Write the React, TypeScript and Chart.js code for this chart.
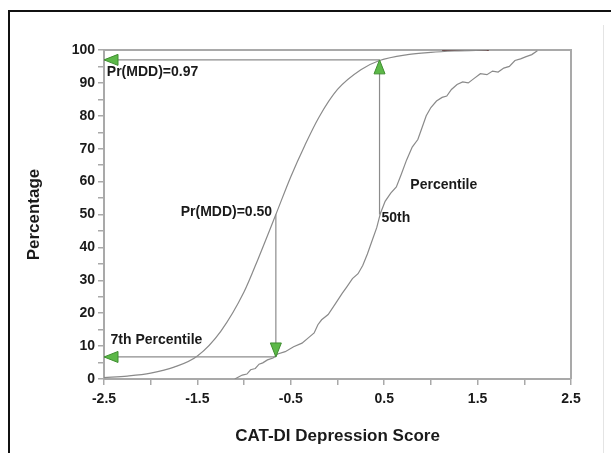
import React, { useEffect, useRef } from "react";
import { Chart, registerables } from "chart.js";

Chart.register(...registerables);

// Logistic Pr(MDD) curve
const probX = [-2.5, -2.25, -2.0, -1.75, -1.5, -1.25, -1.0, -0.85, -0.66, -0.5, -0.35, -0.2, 0, 0.25, 0.45, 0.75, 1.0, 1.25, 1.6];
const probY = [0.4, 0.9, 1.8, 3.6, 7.0, 14.5, 26.5, 36.5, 50, 61.5, 71, 79.5, 88, 94, 96.8, 98.6, 99.3, 99.7, 100];

const pctX = [-1.10, -1.02, -0.97, -0.93, -0.88, -0.84, -0.80, -0.75, -0.69, -0.64, -0.56, -0.47, -0.38, -0.30, -0.25, -0.21, -0.17, -0.10, -0.02, 0.05, 0.10, 0.16, 0.22, 0.27, 0.32, 0.37, 0.42, 0.46, 0.51, 0.57, 0.63, 0.68, 0.74, 0.80, 0.86, 0.90, 0.95, 1.00, 1.06, 1.12, 1.17, 1.22, 1.28, 1.34, 1.40, 1.46, 1.53, 1.60, 1.66, 1.72, 1.78, 1.84, 1.90, 1.96, 2.02, 2.08, 2.14];
const pctY = [0, 1.2, 1.5, 2.8, 3.2, 4.5, 4.9, 5.8, 6.4, 7.6, 8.3, 9.8, 10.9, 12.8, 14.0, 16.5, 18.0, 19.6, 23.0, 26.0, 28.0, 30.5, 32.0, 34.5, 38.0, 42.0, 46.0, 50.4, 54.0, 56.5, 58.4, 62.0, 66.6, 70.5, 72.8, 76.0, 80.0, 82.5, 84.5, 85.6, 86.0, 88.0, 89.5, 90.3, 90.0, 91.3, 92.8, 92.5, 93.6, 93.3, 94.5, 95.0, 96.8, 97.3, 98.0, 98.6, 99.8];

// Dark segment at the top of the probability curve
const topSegX = [1.12, 1.62];
const topSegY = [100, 100];

// Reference values for the arrows
const score50th = 0.45;
const prAt50th = 97;
const scorePr50 = -0.66;
const pctAtPr50 = 6.7;
const midPct = 50;
const axisMin = -2.5;

// Axis ticks
const xTickLabels = ["-2.5", "-1.5", "-0.5", "0.5", "1.5", "2.5"];
const yTickLabels = ["0", "10", "20", "30", "40", "50", "60", "70", "80", "90", "100"];

// Annotation texts
const labelTexts = ["Pr(MDD)=0.97", "Pr(MDD)=0.50", "Percentile", "50th", "7th Percentile"];

const FONT = '"Liberation Sans", Arial, sans-serif';

const pts = (xs: number[], ys: number[]) => xs.map((x, i) => ({ x, y: ys[i] }));

const arrows = [
  { from: [score50th, midPct], to: [score50th, prAt50th] },
  { from: [score50th, prAt50th], to: [axisMin, prAt50th] },
  { from: [scorePr50, midPct], to: [scorePr50, pctAtPr50] },
  { from: [scorePr50, pctAtPr50], to: [axisMin, pctAtPr50] },
];

const labels = [
  { text: labelTexts[0], x: -2.47, y: 93.3, align: "left" },
  { text: labelTexts[1], x: -0.70, y: 50.8, align: "right" },
  { text: labelTexts[2], x: 0.78, y: 59, align: "left" },
  { text: labelTexts[3], x: 0.47, y: 49.0, align: "left" },
  { text: labelTexts[4], x: -2.43, y: 11.9, align: "left" },
];

const decor = {
  id: "decor",
  beforeDraw(chart: any) {
    const { ctx, width, height } = chart;
    ctx.save();
    ctx.fillStyle = "#fff";
    ctx.fillRect(0, 0, width, height);
    ctx.restore();
  },
  beforeDatasetsDraw(chart: any) {
    const { ctx, chartArea } = chart;
    ctx.save();
    ctx.strokeStyle = "#a9a9a9";
    ctx.lineWidth = 2;
    ctx.beginPath();
    ctx.moveTo(chartArea.left, chartArea.top);
    ctx.lineTo(chartArea.right, chartArea.top);
    ctx.lineTo(chartArea.right, chartArea.bottom);
    ctx.stroke();
    ctx.restore();
  },
  afterDraw(chart: any) {
    const { ctx, width, height } = chart;
    const xs = chart.scales.x;
    const ys = chart.scales.y;
    ctx.save();
    // outer frame
    ctx.strokeStyle = "#111";
    ctx.lineWidth = 2;
    ctx.beginPath();
    ctx.moveTo(9, height);
    ctx.lineTo(9, 11);
    ctx.lineTo(width, 11);
    ctx.stroke();
    ctx.strokeStyle = "#e4e4e4";
    ctx.lineWidth = 1;
    ctx.beginPath();
    ctx.moveTo(603.5, 25);
    ctx.lineTo(603.5, height);
    ctx.stroke();

    // arrowheads
    for (const a of arrows) {
      const fx = xs.getPixelForValue(a.from[0]);
      const fy = ys.getPixelForValue(a.from[1]);
      const tx = xs.getPixelForValue(a.to[0]);
      const ty = ys.getPixelForValue(a.to[1]);
      const ang = Math.atan2(ty - fy, tx - fx);
      const len = 14;
      const hw = 5.5;
      const bx = tx - Math.cos(ang) * len;
      const by = ty - Math.sin(ang) * len;
      const px = -Math.sin(ang) * hw;
      const py = Math.cos(ang) * hw;
      ctx.beginPath();
      ctx.moveTo(tx, ty);
      ctx.lineTo(bx + px, by + py);
      ctx.lineTo(bx - px, by - py);
      ctx.closePath();
      ctx.fillStyle = "#5cb848";
      ctx.fill();
      ctx.strokeStyle = "#3f8f30";
      ctx.lineWidth = 1;
      ctx.stroke();
    }

    // labels
    ctx.fillStyle = "#1a1a1a";
    ctx.font = `bold 14px ${FONT}`;
    ctx.textBaseline = "middle";
    for (const l of labels) {
      ctx.textAlign = l.align as CanvasTextAlign;
      ctx.fillText(l.text, xs.getPixelForValue(l.x), ys.getPixelForValue(l.y));
    }
    ctx.restore();
  },
};

export default function App() {
  const ref = useRef<HTMLCanvasElement>(null);
  useEffect(() => {
    const canvas = ref.current!;
    const lineDs = (data: any[], color: string, w: number, extra: any = {}) => ({
      data,
      borderColor: color,
      borderWidth: w,
      pointRadius: 0,
      fill: false,
      showLine: true,
      ...extra,
    });
    const chart = new Chart(canvas, {
      type: "scatter",
      data: {
        datasets: [
          ...arrows.map((a) => lineDs([{ x: a.from[0], y: a.from[1] }, { x: a.to[0], y: a.to[1] }], "#8c8c8c", 1.2)),
          lineDs(pts(probX, probY), "#8a8a8a", 1.2, { cubicInterpolationMode: "monotone" }),
          lineDs(pts(pctX, pctY), "#8a8a8a", 1.2, { tension: 0 }),
          lineDs(pts(topSegX, topSegY), "#5a2f2f", 1.6),
        ],
      },
      plugins: [decor],
      options: {
        responsive: false,
        animation: false,
        devicePixelRatio: 1,
        layout: { padding: { left: 20, top: 50, right: 40, bottom: 2 } },
        plugins: { legend: { display: false }, tooltip: { enabled: false } },
        scales: {
          x: {
            type: "linear",
            min: -2.5,
            max: 2.5,
            afterFit: (s: any) => { s.height = 72; },
            afterBuildTicks: (s: any) => {
              const t = [];
              for (let i = 0; i <= 10; i++) t.push({ value: -2.5 + i * 0.5 });
              s.ticks = t;
            },
            ticks: {
              autoSkip: false,
              maxRotation: 0,
              padding: 6,
              color: "#1a1a1a",
              font: { family: FONT, size: 14, weight: "bold" },
              callback: (v: any) => {
                const idx = Math.round((Number(v) + 2.5) * 2);
                return idx % 2 === 0 ? xTickLabels[idx / 2] : "";
              },
            },
            grid: { drawOnChartArea: false, drawTicks: true, tickLength: 6, color: "#a9a9a9", lineWidth: 1.5 },
            border: { display: true, color: "#a9a9a9", width: 2 },
            title: {
              display: true,
              text: "CAT-DI Depression Score",
              color: "#1a1a1a",
              font: { family: FONT, size: 17, weight: "bold" },
              padding: 4,
            },
          },
          y: {
            type: "linear",
            min: 0,
            max: 100,
            afterFit: (s: any) => { s.width = 84; },
            afterBuildTicks: (s: any) => {
              const t = [];
              for (let i = 0; i <= 20; i++) t.push({ value: i * 5 });
              s.ticks = t;
            },
            ticks: {
              autoSkip: false,
              padding: 3,
              color: "#1a1a1a",
              font: { family: FONT, size: 14, weight: "bold" },
              callback: (v: any) => {
                const n = Math.round(Number(v));
                return n % 10 === 0 ? yTickLabels[n / 10] : "";
              },
            },
            grid: { drawOnChartArea: false, drawTicks: true, tickLength: 6, color: "#a9a9a9", lineWidth: 1.5 },
            border: { display: true, color: "#a9a9a9", width: 2 },
            title: {
              display: true,
              text: "Percentage",
              color: "#1a1a1a",
              font: { family: FONT, size: 17, weight: "bold" },
              padding: 4,
            },
          },
        },
      },
    });
    return () => chart.destroy();
  }, []);
  return (
    <div style={{ position: "fixed", left: 0, top: 0, width: 611, height: 453, background: "#fff" }}>
      <canvas ref={ref} width={611} height={453} style={{ display: "block" }} />
    </div>
  );
}
